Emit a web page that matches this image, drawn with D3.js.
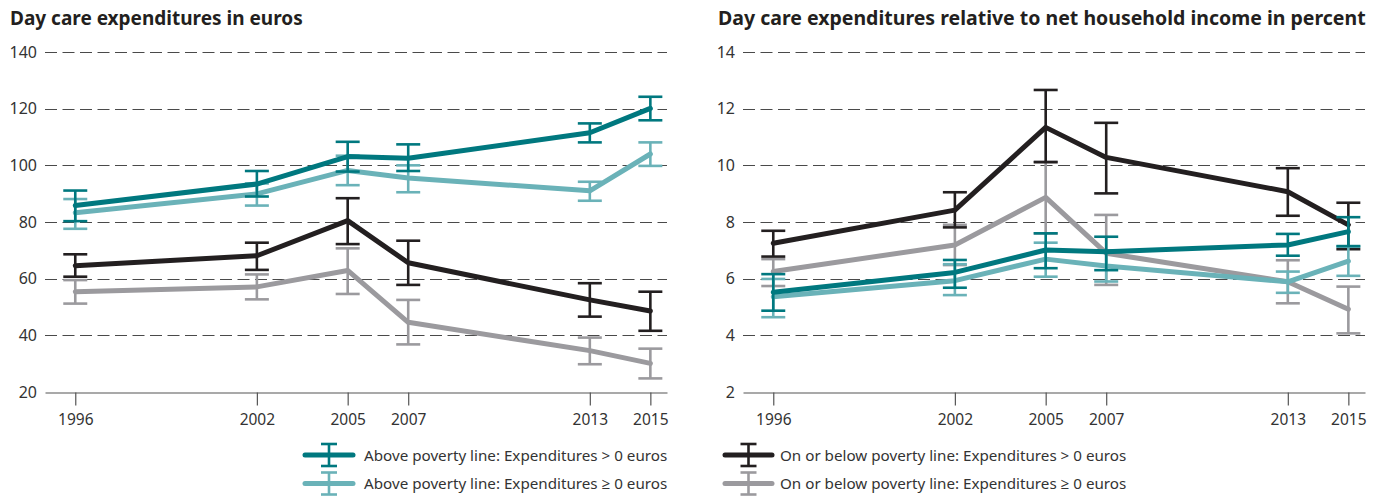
<!DOCTYPE html>
<html>
<head>
<meta charset="utf-8">
<script src="https://cdn.jsdelivr.net/npm/d3@7"></script>
<style>
  html, body { margin: 0; padding: 0; background: #fff; }
  svg { display: block; font-family: "Noto Sans", "Open Sans", sans-serif; }
</style>
</head>
<body>
<svg id="chart" width="1381" height="497"></svg>
<script>
// ---------- data ----------
const years = [1996, 2002, 2005, 2007, 2013, 2015];

// Left panel: expenditures in euros
const aboveGt0Euro    = [85.8, 93.4, 103.1, 102.5, 111.5, 120.1];
const aboveGt0EuroLo  = [80.3, 89.0, 97.8, 98.0, 108.1, 115.9];
const aboveGt0EuroHi  = [91.1, 98.0, 108.3, 107.4, 114.8, 124.2];
const aboveGe0Euro    = [83.3, 89.9, 98.2, 95.5, 91.0, 104.0];
const aboveGe0EuroLo  = [77.6, 85.8, 93.0, 90.5, 87.5, 99.8];
const aboveGe0EuroHi  = [88.1, 93.6, 103.4, 100.0, 94.2, 108.1];
const belowGt0Euro    = [64.6, 68.1, 80.5, 65.6, 52.5, 48.6];
const belowGt0EuroLo  = [60.7, 63.1, 72.2, 57.8, 46.6, 41.6];
const belowGt0EuroHi  = [68.6, 72.7, 88.4, 73.4, 58.4, 55.4];
const belowGe0Euro    = [55.4, 57.1, 62.9, 44.6, 34.6, 30.1];
const belowGe0EuroLo  = [51.2, 52.7, 54.6, 36.8, 29.8, 24.8];
const belowGe0EuroHi  = [59.5, 61.5, 70.7, 52.5, 39.2, 35.3];

// Right panel: relative to net household income, percent
const aboveGt0Pct    = [5.52, 6.22, 7.01, 6.95, 7.19, 7.66];
const aboveGt0PctLo  = [4.87, 5.68, 6.37, 6.30, 6.81, 7.15];
const aboveGt0PctHi  = [6.16, 6.66, 7.60, 7.48, 7.58, 8.17];
const aboveGe0Pct    = [5.36, 5.93, 6.69, 6.45, 5.89, 6.62];
const aboveGe0PctLo  = [4.64, 5.42, 6.07, 5.90, 5.50, 6.10];
const aboveGe0PctHi  = [5.99, 6.51, 7.27, 7.00, 6.25, 7.13];
const belowGt0Pct    = [7.25, 8.42, 11.34, 10.28, 9.07, 7.90];
const belowGt0PctLo  = [6.78, 7.81, 10.11, 9.01, 8.22, 7.04];
const belowGt0PctHi  = [7.69, 9.05, 12.66, 11.50, 9.90, 8.68];
const belowGe0Pct    = [6.25, 7.19, 8.87, 6.90, 5.89, 4.92];
const belowGe0PctLo  = [5.74, 6.48, 7.60, 5.78, 5.13, 4.07];
const belowGe0PctHi  = [6.69, 7.90, 10.13, 8.25, 6.65, 5.72];

const leftTicks  = [20, 40, 60, 80, 100, 120, 140];
const rightTicks = [2, 4, 6, 8, 10, 12, 14];

const titles = ["Day care expenditures in euros",
                "Day care expenditures relative to net household income in percent"];
const seriesNames = [
  "Above poverty line: Expenditures > 0 euros",
  "Above poverty line: Expenditures \u2265 0 euros",
  "On or below poverty line: Expenditures > 0 euros",
  "On or below poverty line: Expenditures \u2265 0 euros"
];
const colors = ["#00787f", "#6ab2b8", "#231f20", "#9b9a9e"];

// ---------- drawing ----------
const svg = d3.select("#chart");

function panel(cfg) {
  const g = svg.append("g");
  const x = d3.scaleLinear().domain([1995, 2015.55]).range([cfg.x0, cfg.x0 + 622]);
  const y = d3.scaleLinear().domain(cfg.yDomain).range([392, 52]);

  g.append("text")
    .attr("x", cfg.titleX).attr("y", 25)
    .attr("font-size", cfg.titleSize).attr("font-weight", 700).attr("fill", "#231f20")
    .text(cfg.title);

  // grid lines
  g.append("g").selectAll("line")
    .data(cfg.ticks.slice(1))
    .join("line")
    .attr("x1", x.range()[0]).attr("x2", x.range()[1])
    .attr("y1", d => Math.round(y(d)) + 0.5).attr("y2", d => Math.round(y(d)) + 0.5)
    .attr("stroke", "#4a4a4a").attr("stroke-width", 1.1)
    .attr("stroke-dasharray", "12,5.5");

  // y axis labels
  const ya = g.append("g").attr("transform", `translate(${x.range()[0]},0)`)
    .call(d3.axisLeft(y).tickValues(cfg.ticks).tickSize(0).tickPadding(8));
  ya.select(".domain").remove();
  ya.selectAll("text").attr("font-size", 16).attr("fill", "#333")
    .attr("font-family", "Noto Sans, sans-serif");

  // x axis
  const xa = g.append("g").attr("transform", `translate(0,${Math.round(y(cfg.yDomain[0])) + 0.5})`)
    .call(d3.axisBottom(x).tickValues(years).tickFormat(d3.format("d")).tickSize(13).tickSizeOuter(0).tickPadding(8));
  xa.select(".domain").attr("stroke", "#555").attr("stroke-width", 1.2);
  xa.selectAll(".tick line").attr("stroke", "#555").attr("stroke-width", 1.2);
  xa.selectAll("text").attr("font-size", 15.5).attr("fill", "#333")
    .attr("font-family", "Noto Sans, sans-serif");

  const line = d3.line().x((d, i) => x(years[i])).y(d => y(d));
  const order = [3, 2, 1, 0];
  order.forEach(k => {
    const s = cfg.series[k];
    const col = colors[k];
    const eb = g.append("g").attr("stroke", col).attr("stroke-width", 2.6).attr("fill", "none");
    years.forEach((yr, i) => {
      const cx = x(yr);
      eb.append("line").attr("x1", cx).attr("x2", cx)
        .attr("y1", y(s.lo[i])).attr("y2", y(s.hi[i]));
      [s.lo[i], s.hi[i]].forEach(v => {
        eb.append("line").attr("x1", cx - 12).attr("x2", cx + 12)
          .attr("y1", y(v)).attr("y2", y(v));
      });
    });
    g.append("path").datum(s.v).attr("d", line)
      .attr("fill", "none").attr("stroke", col).attr("stroke-width", 5)
      .attr("stroke-linejoin", "round").attr("stroke-linecap", "round");
  });
}

panel({
  x0: 45, titleX: 10, titleSize: 19, title: titles[0], yDomain: [20, 140], ticks: leftTicks,
  series: [
    { v: aboveGt0Euro, lo: aboveGt0EuroLo, hi: aboveGt0EuroHi },
    { v: aboveGe0Euro, lo: aboveGe0EuroLo, hi: aboveGe0EuroHi },
    { v: belowGt0Euro, lo: belowGt0EuroLo, hi: belowGt0EuroHi },
    { v: belowGe0Euro, lo: belowGe0EuroLo, hi: belowGe0EuroHi }
  ]
});
panel({
  x0: 743, titleX: 718, titleSize: 19.5, title: titles[1], yDomain: [2, 14], ticks: rightTicks,
  series: [
    { v: aboveGt0Pct, lo: aboveGt0PctLo, hi: aboveGt0PctHi },
    { v: aboveGe0Pct, lo: aboveGe0PctLo, hi: aboveGe0PctHi },
    { v: belowGt0Pct, lo: belowGt0PctLo, hi: belowGt0PctHi },
    { v: belowGe0Pct, lo: belowGe0PctLo, hi: belowGe0PctHi }
  ]
});

// ---------- legend ----------
const legendItems = [
  { k: 0, x: 305, w: 48, y: 455, tx: 364 },
  { k: 1, x: 305, w: 48, y: 483.5, tx: 364 },
  { k: 2, x: 725, w: 47, y: 455, tx: 780 },
  { k: 3, x: 725, w: 47, y: 483.5, tx: 780 }
];
const lg = svg.append("g");
legendItems.forEach(it => {
  const col = colors[it.k];
  const cx = it.x + it.w / 2;
  lg.append("line").attr("x1", it.x).attr("x2", it.x + it.w)
    .attr("y1", it.y).attr("y2", it.y)
    .attr("stroke", col).attr("stroke-width", 5).attr("stroke-linecap", "round");
  lg.append("line").attr("x1", cx).attr("x2", cx)
    .attr("y1", it.y - 11).attr("y2", it.y + 11)
    .attr("stroke", col).attr("stroke-width", 2.6);
  [it.y - 11, it.y + 11].forEach(v => {
    lg.append("line").attr("x1", cx - 8).attr("x2", cx + 8)
      .attr("y1", v).attr("y2", v).attr("stroke", col).attr("stroke-width", 2.6);
  });
  lg.append("text").attr("x", it.tx).attr("y", it.y + 5.5)
    .attr("font-size", 15.2).attr("fill", "#333")
    .text(seriesNames[it.k]);
});
</script>
</body>
</html>
